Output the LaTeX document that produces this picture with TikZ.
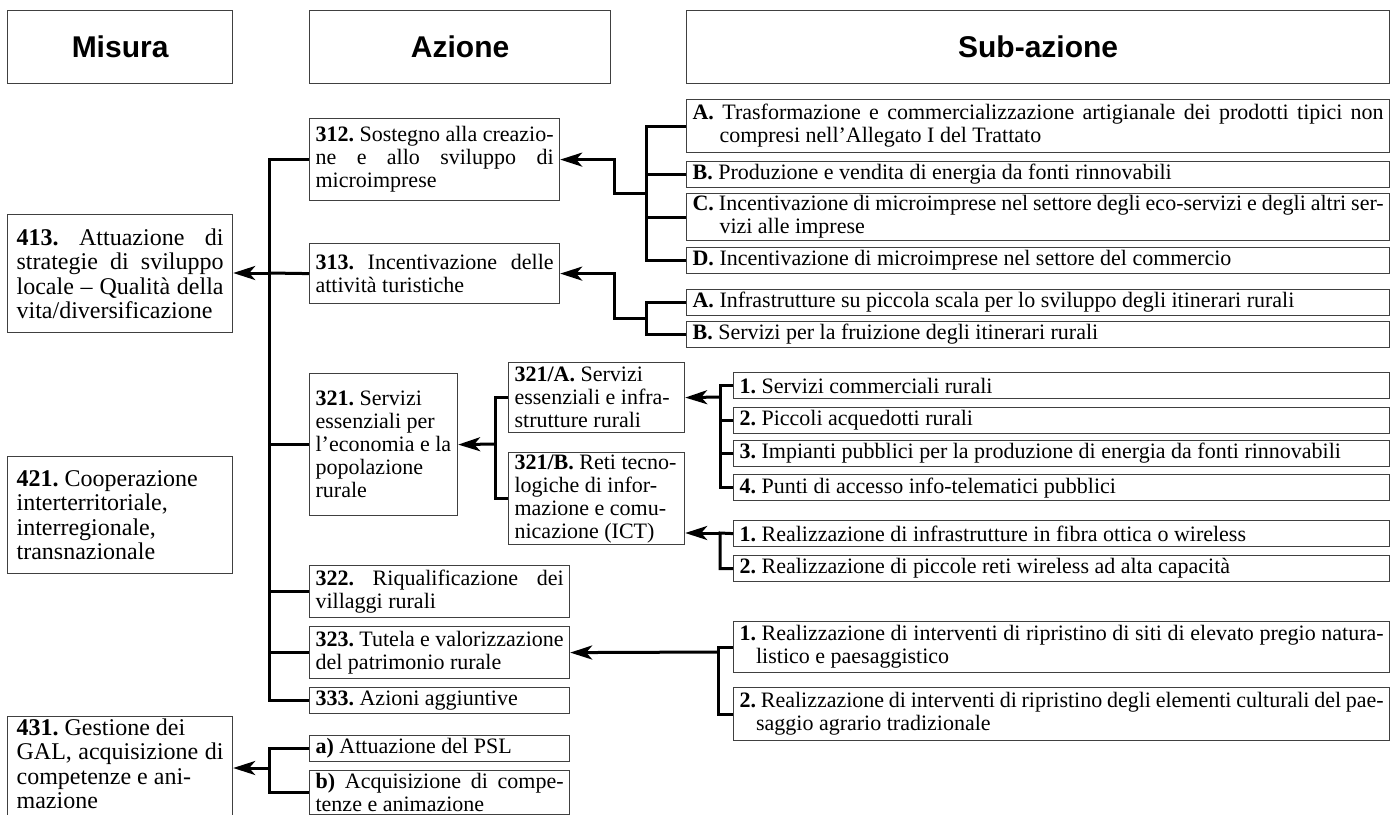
\documentclass[tikz,border=0pt]{standalone}
\usepackage{fontspec}
\setmainfont{Liberation Serif}
\newfontfamily\headfont{Liberation Sans}
\usetikzlibrary{positioning, arrows.meta}
\frenchspacing

% riga giustificata a tutta larghezza
\newcommand{\giusto}[1]{\makebox[\hsize][s]{#1}}

\begin{document}
\begin{tikzpicture}[x=0.5pt, y=-0.5pt,
    intest/.style={draw=black!75, line width=0.6pt, anchor=north west, minimum height=36.5pt,
        font=\headfont\bfseries\fontsize{15}{18}\selectfont},
    casella/.style={draw=black!75, line width=0.6pt, anchor=north west, inner xsep=3pt, inner ysep=1pt,
        align=justify, font=\fontsize{11}{11.5}\selectfont,
        execute at begin node={\spaceskip=0pt\xspaceskip=0pt}},
    misura/.style={casella, inner xsep=4.5pt, minimum width=112.5pt, text width=103.5pt,
        font=\fontsize{12}{12.2}\selectfont},
    colaz/.style={casella, minimum width=125pt, text width=119pt},
    colazb/.style={casella, minimum width=130pt, text width=124pt},
    colsub/.style={casella, minimum width=351.5pt, text width=345.5pt},
    colsubb/.style={casella, minimum width=328pt, text width=322pt},
    riga/.style={minimum height=13pt},
    conn/.style={line width=1.5pt},
    freccia/.style={conn, -{Stealth[length=11pt, width=7pt, inset=3pt]}}]

        \clip (0,0) rectangle (1396,814);

        % Intestazioni
        \node[intest, minimum width=112.5pt] (hMis) at (7,10) {Misura};
        \node[intest, minimum width=150.5pt] (hAz) at (309,10) {Azione};
        \node[intest, minimum width=351.5pt] (hSub) at (686,10) {Sub-azione};

        % Misure
        \node[misura, minimum height=59pt] (m413) at (7,214) {\giusto{\textbf{413.} Attuazione di}\\ \giusto{strategie di sviluppo}\\ \giusto{locale – Qualità della}\\ vita/diversificazione};
        \node[misura, minimum height=58.5pt] (m421) at (7,456) {\textbf{421.} Cooperazione\\ interterritoriale,\\ interregionale,\\ transnazionale};
        \node[misura, text depth=46pt] (m431) at (7,716) {\textbf{431.} Gestione dei\\ \giusto{GAL, acquisizione di}\\ competenze e ani-\\ mazione};

        % Azioni
        \node[colaz, minimum height=41pt] (a312) at (309,118) {\giusto{\textbf{312.} Sostegno alla creazio-}\\ \giusto{ne e allo sviluppo di}\\ microimprese};
        \node[colaz, minimum height=30pt] (a313) at (309,243) {\giusto{\textbf{313.} Incentivazione delle}\\ attività turistiche};
        \node[casella, minimum width=74pt, text width=68pt, minimum height=71pt] (a321) at (309,373) {\textbf{321.} Servizi\\ essenziali per\\ \mbox{l’economia e la}\\ popolazione\\ rurale};
        \node[casella, minimum width=88pt, text width=82pt, minimum height=35pt] (a321A) at (508,362) {\textbf{321/A.} Servizi\\ \mbox{essenziali e infra-}\\ strutture rurali};
        \node[casella, minimum width=88pt, text width=82pt, minimum height=45pt] (a321B) at (508,452) {\mbox{\textbf{321/B.} Reti tecno-}\\ \mbox{logiche di infor-}\\ \mbox{mazione e comu-}\\ nicazione (ICT)};
        \node[colazb, minimum height=26pt] (a322) at (309,565) {\giusto{\textbf{322.} Riqualificazione dei}\\ villaggi rurali};
        \node[colazb, minimum height=26pt] (a323) at (309,626) {\giusto{\textbf{323.} Tutela e valorizzazione}\\ del patrimonio rurale};
        \node[colazb, riga] (a333) at (309,687) {\textbf{333.} Azioni aggiuntive};
        \node[colazb, riga] (aA) at (309,735) {\textbf{a)} Attuazione del PSL};
        \node[colazb, minimum height=22pt] (aB) at (309,770) {\giusto{\textbf{b)} Acquisizione di compe-}\\ tenze e animazione};

        % Sub-azioni
        \node[colsub, minimum height=26.5pt] (s312A) at (686,99) {\giusto{\textbf{A.} Trasformazione e commercializzazione artigianale dei prodotti tipici non}\\ \hphantom{\textbf{A.}~}compresi nell’Allegato I del Trattato};
        \node[colsub, riga] (s312B) at (686,161) {\textbf{B.} Produzione e vendita di energia da fonti rinnovabili};
        \node[colsub, minimum height=23pt] (s312C) at (686,193) {\giusto{\textbf{C.} Incentivazione di microimprese nel settore degli eco-servizi e degli altri ser-}\\ \hphantom{\textbf{C.}~}vizi alle imprese};
        \node[colsub, riga] (s312D) at (686,247) {\textbf{D.} Incentivazione di microimprese nel settore del commercio};
        \node[colsub, riga] (s313A) at (686,289) {\textbf{A.} Infrastrutture su piccola scala per lo sviluppo degli itinerari rurali};
        \node[colsub, riga] (s313B) at (686,321) {\textbf{B.} Servizi per la fruizione degli itinerari rurali};

        \node[colsubb, riga] (s321A1) at (733,372) {\textbf{1.} Servizi commerciali rurali};
        \node[colsubb, riga] (s321A2) at (733,407) {\textbf{2.} Piccoli acquedotti rurali};
        \node[colsubb, riga] (s321A3) at (733,440) {\textbf{3.} Impianti pubblici per la produzione di energia da fonti rinnovabili};
        \node[colsubb, riga] (s321A4) at (733,474) {\textbf{4.} Punti di accesso info-telematici pubblici};
        \node[colsubb, riga] (s321B1) at (733,520) {\textbf{1.} Realizzazione di infrastrutture in fibra ottica o wireless};
        \node[colsubb, riga] (s321B2) at (733,555) {\textbf{2.} Realizzazione di piccole reti wireless ad alta capacità};
        \node[colsubb, minimum height=25.5pt] (s323a) at (733,621) {\giusto{\textbf{1.} Realizzazione di interventi di ripristino di siti di elevato pregio natura-}\\ \hphantom{\textbf{1.}}listico e paesaggistico};
        \node[colsubb, minimum height=26.5pt] (s323b) at (733,687) {\giusto{\textbf{2.} Realizzazione di interventi di ripristino degli elementi culturali del pae-}\\ \hphantom{\textbf{2.}}saggio agrario tradizionale};

        % Nodi di raccordo
        \coordinate (nodo413) at (269,273);
        \coordinate (nodo431) at (269,768);
        \coordinate (g312) at (646,193);
        \coordinate (g313) at (646,318);
        \coordinate (g321) at (495,444);
        \coordinate (g321A) at (720,397);
        \coordinate (g321B) at (720,533);
        \coordinate (g323) at (718,652);

        % Azioni -> misure
        \draw[conn] (a312.west) -| (nodo413) |- (a333.west);
        \draw[conn] (a313.west) -- (nodo413);
        \draw[conn] (a321.west) -- (a321.west -| nodo413);
        \draw[conn] (a322.west) -- (a322.west -| nodo413);
        \draw[conn] (a323.west) -- (a323.west -| nodo413);
        \draw[freccia] (nodo413) -- (nodo413 -| m413.east);

        \draw[conn] (aA.west) -| (nodo431) |- (aB.west);
        \draw[freccia] (nodo431) -- (nodo431 -| m431.east);

        % Sub-azioni -> azioni
        \draw[conn] (s312A.west) -| (g312) |- (s312D.west);
        \draw[conn] (s312B.west) -- (s312B.west -| g312);
        \draw[conn] (s312C.west) -- (s312C.west -| g312);
        \draw[freccia] (g312) -- ++(-32,0) |- (a312.east);

        \draw[conn] (s313A.west) -| (g313) |- (s313B.west);
        \draw[freccia] (g313) -- ++(-32,0) |- (a313.east);

        \draw[conn] (a321A.west) -| (g321) |- (a321B.west);
        \draw[freccia] (g321) -- (a321.east);

        \draw[conn] (s321A1.west) -| (g321A) |- (s321A4.west);
        \draw[conn] (s321A2.west) -- (s321A2.west -| g321A);
        \draw[conn] (s321A3.west) -- (s321A3.west -| g321A);
        \draw[freccia] (g321A) -- (a321A.east);

        \draw[conn] (s321B1.west) -- (g321B) |- (s321B2.west);
        \draw[freccia] (g321B) -- (g321B -| a321B.east);

        \draw[conn] (s323a.west) -| (g323) |- (s323b.west);
        \draw[freccia] (g323) -- (a323.east);

    \end{tikzpicture}
\end{document}
